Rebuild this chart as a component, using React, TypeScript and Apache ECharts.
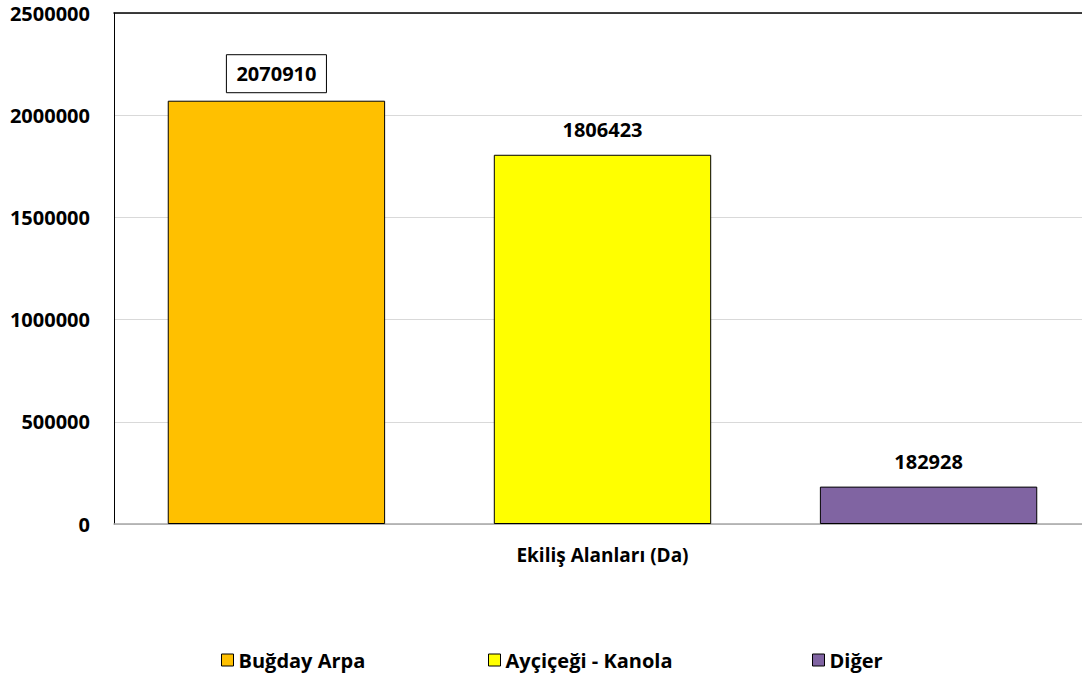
import React, { useEffect, useRef } from "react";
import * as echarts from "echarts";

const categories = ["Ekiliş Alanları (Da)"];
const seriesNames = ["Buğday Arpa", "Ayçiçeği - Kanola", "Diğer"];
const seriesValues = [2070910, 1806423, 182928];
const seriesColors = ["#FFC000", "#FFFF00", "#8064A2"];
const legendLefts = [216, 483, 807];

const FONT = "Open Sans";

export default function App() {
  const ref = useRef<HTMLDivElement>(null);
  useEffect(() => {
    if (!ref.current) return;
    const chart = echarts.init(ref.current, null, { renderer: "svg" });
    const series = seriesNames.map((name, i) => ({
      name,
      type: "bar",
      data: [seriesValues[i]],
      barGap: "50%",
      barCategoryGap: "11%",
      itemStyle: { color: seriesColors[i], borderColor: "#000", borderWidth: 1 },
      label: {
        show: true,
        position: "top",
        color: "#000",
        fontFamily: FONT,
        fontWeight: "bold",
        fontSize: 20,
        lineHeight: 20,
        distance: i === 0 ? 8 : 15,
        ...(i === 0
          ? { borderColor: "#000", borderWidth: 1, padding: [9, 10, 9, 10] }
          : {}),
      },
    }));
    chart.setOption({
      animation: false,
      textStyle: { fontFamily: FONT },
      grid: { left: 114, top: 13, bottom: 155, right: 0, containLabel: false },
      legend: seriesNames.map((name, i) => ({
        data: [name],
        left: legendLefts[i],
        top: 645,
        itemWidth: 12,
        itemHeight: 12,
        itemGap: 10,
        icon: "rect",
        itemStyle: { borderColor: "#000", borderWidth: 1 },
        textStyle: { color: "#000", fontFamily: FONT, fontWeight: "bold", fontSize: 20 },
      })),
      xAxis: [
        {
          type: "category",
          data: categories,
          axisLine: { lineStyle: { color: "#a6a6a6", width: 1.5 } },
          axisTick: { show: false },
          axisLabel: {
            color: "#000",
            fontFamily: FONT,
            fontWeight: "bold",
            fontSize: 19,
            margin: 21,
          },
        },
        {
          type: "category",
          data: categories,
          position: "top",
          axisLine: { lineStyle: { color: "#000", width: 1.5 } },
          axisTick: { show: false },
          axisLabel: { show: false },
        },
      ],
      yAxis: {
        type: "value",
        min: 0,
        max: 2500000,
        interval: 500000,
        axisLine: { show: true, lineStyle: { color: "#000", width: 1 } },
        axisTick: { show: false },
        splitLine: { lineStyle: { color: "#d9d9d9", width: 1 } },
        axisLabel: {
          color: "#000",
          fontFamily: FONT,
          fontWeight: "bold",
          fontSize: 20,
          margin: 24,
          formatter: (v: number) => String(v),
        },
      },
      series,
    });
    return () => chart.dispose();
  }, []);
  return (
    <div
      ref={ref}
      style={{ position: "fixed", left: 0, top: 0, width: 1091, height: 679, background: "#fff" }}
    />
  );
}
